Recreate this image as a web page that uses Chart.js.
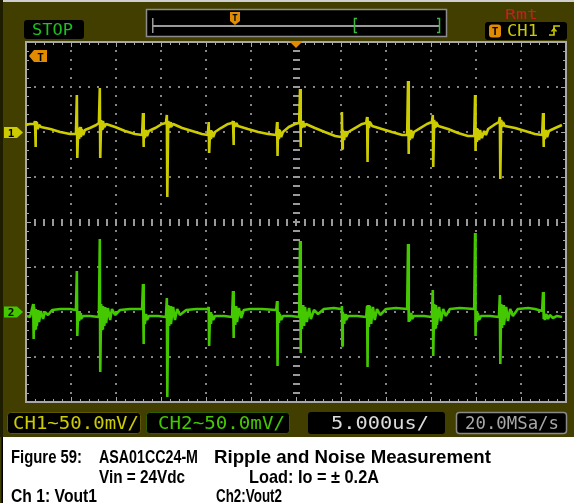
<!DOCTYPE html>
<html><head><meta charset="utf-8">
<script src="https://cdn.jsdelivr.net/npm/chart.js@4/dist/chart.umd.min.js"></script>
<style>
html,body{margin:0;padding:0;background:#423e00;width:574px;height:503px;overflow:hidden}
#wrap{position:relative;width:574px;height:503px}
#scope{position:absolute;left:25px;top:41px;width:542px;height:362px}
svg{position:absolute;left:0;top:0;pointer-events:none}
.m{font-family:"DejaVu Sans Mono",monospace}
.c{font-family:"Liberation Sans",Arial,sans-serif;font-weight:bold}
</style></head>
<body><div id="wrap">
<canvas id="scope" width="542" height="362"></canvas>
<svg width="574" height="503" viewBox="0 0 574 503">
<rect x="0" y="0" width="574" height="2" fill="#cfcfcf"/>
<rect x="0" y="0" width="3" height="437" fill="#1f1d00"/>
<rect x="3" y="437" width="571" height="66" fill="#ffffff"/>
<rect x="1.5" y="437" width="1.5" height="66" fill="#000"/>

<rect x="24" y="20" width="60" height="19" rx="3" fill="#000"/>
<text class="m" x="32" y="35" font-size="15" fill="#1fbf1f" textLength="41" lengthAdjust="spacingAndGlyphs">STOP</text>

<rect x="146.5" y="9.5" width="300" height="27" fill="#000" stroke="#8c8c8c" stroke-width="1.5"/>
<rect x="152" y="25" width="288" height="2" fill="#9a9a9a"/>
<rect x="152" y="18" width="1.5" height="15" fill="#9a9a9a"/>
<path d="M357 18.5 H354.5 V32.5 H357" stroke="#3fb83f" stroke-width="1.5" fill="none"/>
<path d="M437 18.5 H439.5 V32.5 H437" stroke="#3fb83f" stroke-width="1.5" fill="none"/>
<path d="M230 12 H240 V21 L235 25 L230 21 Z" fill="#e38b00"/>
<text x="235" y="20.5" font-size="9" font-weight="bold" text-anchor="middle" fill="#000" class="m">T</text>

<text class="m" x="505" y="19" font-size="14" fill="#c81e1e" textLength="33" lengthAdjust="spacingAndGlyphs">Rmt</text>
<rect x="485" y="22" width="82" height="18" rx="3" fill="#000"/>
<rect x="489" y="24.5" width="12" height="13" rx="3" fill="#e38b00"/>
<text x="495" y="35" font-size="11" font-weight="bold" text-anchor="middle" fill="#000" class="m">T</text>
<text class="m" x="507" y="36" font-size="15" fill="#cccc00" textLength="31" lengthAdjust="spacingAndGlyphs">CH1</text>
<path d="M549 35 H554 V26 H560" stroke="#cccc00" stroke-width="1.6" fill="none"/>
<path d="M551.5 31.5 L554 28.5 L556.5 31.5" stroke="#cccc00" stroke-width="1.4" fill="none"/>

<path d="M29 56 L34 50 H47 V62 H34 Z" fill="#e38b00"/>
<text x="40.5" y="60.5" font-size="11" font-weight="bold" text-anchor="middle" fill="#000" class="m">T</text>
<path d="M289 41 H303 L296 48 Z" fill="#e38b00"/>

<path d="M4 127 H17 L23 132.5 L17 138 H4 Z" fill="#cccc00"/>
<text x="11" y="136.5" font-size="11" font-weight="bold" text-anchor="middle" fill="#000" class="m">1</text>
<path d="M4 306.5 H17 L23 312 L17 317.5 H4 Z" fill="#44c800"/>
<text x="11" y="316" font-size="11" font-weight="bold" text-anchor="middle" fill="#000" class="m">2</text>

<rect x="7.5" y="412.5" width="133" height="21" rx="3" fill="#000" stroke="#5e5800"/>
<text class="m" x="13" y="429" font-size="17" fill="#cccc00" textLength="126" lengthAdjust="spacingAndGlyphs">CH1~50.0mV/</text>
<rect x="146.5" y="412.5" width="143" height="21" rx="3" fill="#000" stroke="#2e5e00"/>
<text class="m" x="158" y="429" font-size="17" fill="#44c800" textLength="127" lengthAdjust="spacingAndGlyphs">CH2~50.0mV/</text>
<rect x="308" y="412" width="137" height="22" rx="3" fill="#000"/>
<text class="m" x="331" y="429" font-size="17" fill="#dcdcdc" textLength="98" lengthAdjust="spacingAndGlyphs">5.000us/</text>
<rect x="456.5" y="412.5" width="110" height="21" rx="3" fill="#000" stroke="#8a8a8a" stroke-width="1.5"/>
<text class="m" x="465" y="429" font-size="17" fill="#a8a8a8" textLength="94" lengthAdjust="spacingAndGlyphs">20.0MSa/s</text>

<text class="c" x="11" y="463" font-size="19" fill="#000" textLength="71" lengthAdjust="spacingAndGlyphs">Figure 59:</text>
<text class="c" x="99" y="463" font-size="19" fill="#000" textLength="99" lengthAdjust="spacingAndGlyphs">ASA01CC24-M</text>
<text class="c" x="214" y="463" font-size="19" fill="#000" textLength="277" lengthAdjust="spacingAndGlyphs">Ripple and Noise Measurement</text>
<text class="c" x="99" y="483" font-size="19" fill="#000" textLength="86" lengthAdjust="spacingAndGlyphs">Vin = 24Vdc</text>
<text class="c" x="249" y="483" font-size="19" fill="#000" textLength="130" lengthAdjust="spacingAndGlyphs">Load: Io = ± 0.2A</text>
<text class="c" x="11" y="502" font-size="19" fill="#000" textLength="86" lengthAdjust="spacingAndGlyphs">Ch 1: Vout1</text>
<text class="c" x="216" y="502" font-size="19" fill="#000" textLength="66" lengthAdjust="spacingAndGlyphs">Ch2:Vout2</text>
</svg>
</div>
<script>
// Time axis: 5 us/div, 12 divisions, trigger at centre
const timeRange = [-30, 30];
const timePerDiv = 5;
// CH1 and CH2: 50 mV/div, 8 divisions; CH1 ground 2 div above centre, CH2 2 div below
const ch1Range = [-300, 100];
const ch2Range = [-100, 300];
const voltPerDiv = 50;

// CH1 (Vout1) samples: [time us, mV]
const ch1Trace = [
[-30.0,7.8],[-29.6,8.9],[-29.1,8.9],
[-29.0,12.2],[-28.95,-16.7],[-28.9,6.7],[-28.8,11.1],[-28.7,3.3],[-28.55,7.8],[-28.35,5.6],
[-27.3,3.3],[-26.2,0],[-25.1,-2.2],[-24.45,-2.2],
[-24.35,41.1],[-24.3,-28.9],[-24.2,4.4],[-24.1,-7.8],[-24.0,5.6],[-23.9,-5.6],[-23.8,3.3],[-23.65,-3.3],[-23.45,2.2],
[-22.9,4.4],[-22.2,7.8],[-21.9,10],
[-21.8,48.9],[-21.75,-28.9],[-21.65,13.3],[-21.55,3.3],[-21.45,12.2],[-21.3,5.6],[-21.1,8.9],
[-20.1,5.6],[-19.0,1.1],[-17.9,-2.2],[-17.1,-3.3],
[-17.0,21.1],[-16.95,-16.7],[-16.9,3.3],[-16.8,-6.7],[-16.65,2.2],[-16.55,-4.4],[-16.35,1.1],
[-15.65,4.4],[-14.9,8.9],[-14.45,10],
[-14.35,18.9],[-14.3,-72.2],[-14.2,12.2],[-14.1,4.4],[-14.0,11.1],[-13.9,5.6],[-13.65,8.9],
[-12.65,4.4],[-11.55,1.1],[-10.45,-2.2],[-9.8,-3.3],
[-9.7,11.1],[-9.65,-23.3],[-9.55,2.2],[-9.45,-7.8],[-9.35,1.1],[-9.2,-5.6],[-9.0,0],
[-8.35,4.4],[-7.55,8.9],[-7.1,10],
[-7.0,12.2],[-6.95,-14.4],[-6.9,11.1],[-6.75,5.6],[-6.65,10],[-6.45,6.7],
[-5.35,3.3],[-4.2,0],[-3.1,-2.2],[-2.2,-3.3],
[-2.1,11.1],[-2.05,-26.7],[-2.0,3.3],[-1.9,-7.8],[-1.8,2.2],[-1.65,-5.6],[-1.45,0],
[-0.8,5.6],[-0.1,8.9],[0.35,10],
[0.45,47.8],[0.5,-16.7],[0.55,13.3],[0.65,4.4],[0.8,12.2],[0.9,5.6],[1.1,8.9],
[2.1,4.4],[3.2,0],[4.35,-4.4],[5.0,-5.6],
[5.1,22.2],[5.15,-18.9],[5.2,2.2],[5.35,-8.9],[5.45,1.1],[5.55,-5.6],[5.8,0],
[6.55,4.4],[7.35,8.9],[7.8,10],
[7.9,16.7],[7.95,-33.3],[8.0,12.2],[8.1,4.4],[8.2,11.1],[8.45,6.7],
[9.55,3.3],[10.65,0],[11.8,-3.3],[12.35,-3.3],
[12.45,56.7],[12.5,-24.4],[12.55,4.4],[12.65,-8.9],[12.8,2.2],[12.9,-6.7],[13.1,0],
[13.8,4.4],[14.55,8.9],[15.1,11.1],
[15.2,18.9],[15.25,-38.9],[15.35,13.3],[15.45,5.6],[15.55,11.1],[15.8,6.7],
[16.9,3.3],[18.0,-1.1],[19.1,-4.4],[19.8,-4.4],
[19.9,41.1],[19.95,-21.1],[20.0,4.4],[20.1,-11.1],[20.2,3.3],[20.35,-8.9],[20.45,2.2],[20.65,-6.7],[20.9,1.1],[21.1,-3.3],[21.35,3.3],
[22.0,7.8],[22.55,11.1],
[22.65,16.7],[22.7,-52.2],[22.8,13.3],[22.9,5.6],[23.0,11.1],[23.2,6.7],
[24.35,4.4],[25.45,1.1],[26.55,-2.2],[27.35,-3.3],
[27.45,21.1],[27.5,-16.7],[27.55,3.3],[27.65,-7.8],[27.8,2.2],[27.9,-5.6],[28.1,1.1],
[28.8,4.4],[29.55,7.8]
];

// CH2 (Vout2) samples: [time us, mV]
const ch2Trace = [
[-29.9,-4.4],[-29.55,-5.6],
[-29.2,8.9],[-29.15,-30],[-29.1,5.6],[-29.0,-18.9],[-28.9,3.3],[-28.8,-15.6],[-28.65,2.2],[-28.55,-11.1],[-28.35,1.1],[-28.1,-7.8],[-27.9,0],[-27.55,-3.3],[-27.1,2.2],
[-26.2,3.3],[-25.1,3.3],[-24.45,2.2],
[-24.35,45.6],[-24.3,-26.7],[-24.2,1.1],[-24.1,-10],[-24.0,-1.1],[-23.9,-7.8],[-23.65,-4.4],
[-22.9,-4.4],[-21.9,-5.6],
[-21.8,81.1],[-21.75,-66.7],[-21.65,8.9],[-21.55,-18.9],[-21.45,6.7],[-21.3,-15.6],[-21.2,5.6],[-21.1,-12.2],[-20.9,4.4],[-20.65,-8.9],[-20.45,3.3],[-20.1,-3.3],[-19.55,2.2],
[-18.45,3.3],[-17.1,3.3],
[-17.0,31.1],[-16.95,-35.6],[-16.9,0],[-16.8,-13.3],[-16.65,-2.2],[-16.55,-8.9],[-16.35,-4.4],
[-15.35,-4.4],[-14.45,-5.6],
[-14.35,15.6],[-14.3,-94.4],[-14.2,7.8],[-14.1,-15.6],[-14.0,6.7],[-13.9,-13.3],[-13.65,5.6],[-13.45,-8.9],[-13.2,3.3],[-12.9,-3.3],[-12.2,2.2],
[-11.1,3.3],[-9.8,3.3],
[-9.7,5.6],[-9.65,-37.8],[-9.55,0],[-9.45,-13.3],[-9.35,-2.2],[-9.2,-8.9],[-9.0,-4.4],
[-8.0,-4.4],[-7.1,-5.6],
[-7.0,23.3],[-6.95,-28.9],[-6.9,7.8],[-6.75,-14.4],[-6.65,6.7],[-6.55,-11.1],[-6.35,4.4],[-6.1,-6.7],[-5.8,2.2],
[-5.1,3.3],[-3.8,3.3],[-2.2,2.2],
[-2.1,12.2],[-2.05,-60],[-2.0,0],[-1.9,-12.2],[-1.8,-2.2],[-1.65,-8.9],[-1.45,-4.4],
[-0.55,-4.4],[0.35,-5.6],
[0.45,78.9],[0.5,-45.6],[0.55,8.9],[0.65,-18.9],[0.8,7.8],[0.9,-15.6],[1.0,5.6],[1.2,-11.1],[1.45,4.4],[1.65,-7.8],[2.0,2.2],[2.45,-2.2],
[3.1,3.3],[4.2,4.4],[5.0,3.3],
[5.1,6.7],[5.15,-37.8],[5.2,0],[5.35,-13.3],[5.45,-2.2],[5.55,-8.9],[5.8,-4.4],
[6.8,-4.4],[7.8,-5.6],
[7.9,6.7],[7.95,-61.1],[8.0,7.8],[8.1,-16.7],[8.2,6.7],[8.35,-13.3],[8.55,5.6],[8.75,-8.9],[9.0,3.3],[9.35,-3.3],
[10.0,3.3],[11.1,4.4],[12.35,3.3],
[12.45,75.6],[12.5,-11.1],[12.55,1.1],[12.65,-10],[12.8,-1.1],[12.9,-7.8],[13.1,-4.4],
[14.2,-4.4],[15.1,-5.6],
[15.2,24.4],[15.25,-48.9],[15.35,8.9],[15.45,-17.8],[15.55,7.8],[15.65,-14.4],[15.9,5.6],[16.1,-10],[16.35,3.3],[16.65,-4.4],
[17.1,3.3],[18.2,4.4],[19.8,3.3],
[19.9,87.8],[19.95,-26.7],[20.0,1.1],[20.1,-11.1],[20.2,-1.1],[20.35,-8.9],[20.55,-4.4],
[21.55,-4.4],[22.55,-5.6],
[22.65,18.9],[22.7,-57.8],[22.8,8.9],[22.9,-17.8],[23.0,7.8],[23.1,-14.4],[23.35,5.6],[23.55,-10],[23.8,3.3],[24.1,-4.4],
[24.65,3.3],[25.8,4.4],[26.55,3.3],[27.35,1.1],
[27.45,22.2],[27.5,-7.8],[27.55,0],[27.65,-8.9],[27.8,-2.2],[28.0,-7.8],[28.2,-3.3],[28.55,-6.7],[29.0,-4.4],[29.55,-5.6]
];

const scopeGrid = {
  id: 'scopeGrid',
  beforeDraw(chart) {
    const {ctx, chartArea: a} = chart;
    ctx.save();
    ctx.fillStyle = '#000';
    ctx.fillRect(a.left, a.top, a.width, a.height);
    ctx.restore();
  },
  beforeDatasetsDraw(chart) {
    const {ctx, chartArea: a, scales} = chart;
    const xs = scales.x, ys = scales.y1;
    const subX = (xs.getPixelForValue(timePerDiv) - xs.getPixelForValue(0)) / 5;
    const subY = (ys.getPixelForValue(0) - ys.getPixelForValue(voltPerDiv)) / 5;
    const cx = Math.round(xs.getPixelForValue(0));
    const cy = Math.round(ys.getPixelForValue(-100));
    ctx.save();
    ctx.fillStyle = '#858585';
    for (let t = timeRange[0] + timePerDiv; t < timeRange[1]; t += timePerDiv) {
      const x = Math.round(xs.getPixelForValue(t));
      if (x === cx) continue;
      for (let k = 1; k < 40; k++) {
        const y = Math.round(a.top + k * subY);
        ctx.fillRect(x - 1, y - 1, 2, 2);
      }
    }
    for (let v = ch1Range[0] + voltPerDiv; v < ch1Range[1]; v += voltPerDiv) {
      const y = Math.round(ys.getPixelForValue(v));
      if (y === cy) continue;
      for (let k = 1; k < 60; k++) {
        const x = Math.round(a.left + k * subX);
        ctx.fillRect(x - 1, y - 1, 2, 2);
      }
    }
    ctx.fillStyle = '#9a9a9a';
    for (let k = 1; k < 40; k++) {
      const y = Math.round(a.top + k * subY);
      ctx.fillRect(cx - 3, y - 1, 7, 2);
    }
    for (let k = 1; k < 60; k++) {
      const x = Math.round(a.left + k * subX);
      ctx.fillRect(x - 1, cy - 3, 2, 7);
    }
    ctx.fillStyle = '#a8a8a8';
    ctx.fillRect(a.left - 1, a.top - 1, a.width + 2, 2);
    ctx.fillRect(a.left - 1, a.bottom - 1, a.width + 2, 2);
    ctx.fillRect(a.left - 1, a.top - 1, 2, a.height + 2);
    ctx.fillRect(a.right - 1, a.top - 1, 2, a.height + 2);
    for (let k = 1; k < 60; k++) {
      const x = Math.round(a.left + k * subX);
      const len = (k % 5 === 0) ? 5 : 3;
      ctx.fillRect(x, a.top, 1, len);
      ctx.fillRect(x, a.bottom - len, 1, len);
    }
    for (let k = 1; k < 40; k++) {
      const y = Math.round(a.top + k * subY);
      const len = (k % 5 === 0) ? 5 : 3;
      ctx.fillRect(a.left, y, len, 1);
      ctx.fillRect(a.right - len, y, len, 1);
    }
    ctx.restore();
  }
};

new Chart(document.getElementById('scope'), {
  type: 'line',
  data: {
    datasets: [
      { label: 'CH1', data: ch1Trace.map(([t, v]) => ({x: t, y: v})), yAxisID: 'y1',
        borderColor: '#cccc00', borderWidth: 2.6, pointRadius: 0, tension: 0, fill: false, borderJoinStyle: 'bevel' },
      { label: 'CH2', data: ch2Trace.map(([t, v]) => ({x: t, y: v})), yAxisID: 'y2',
        borderColor: '#44c800', borderWidth: 2.6, pointRadius: 0, tension: 0, fill: false, borderJoinStyle: 'bevel' }
    ]
  },
  options: {
    responsive: false, animation: false, devicePixelRatio: 1,
    layout: { padding: 1 },
    plugins: { legend: { display: false }, tooltip: { enabled: false } },
    scales: {
      x: { type: 'linear', min: timeRange[0], max: timeRange[1], display: false },
      y1: { type: 'linear', min: ch1Range[0], max: ch1Range[1], display: false },
      y2: { type: 'linear', min: ch2Range[0], max: ch2Range[1], display: false }
    }
  },
  plugins: [scopeGrid]
});
</script>
</body></html>
